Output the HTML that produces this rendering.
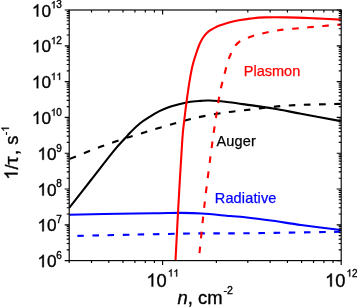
<!DOCTYPE html><html><head><meta charset="utf-8"><style>
html,body{margin:0;padding:0;background:#fff;}
svg{display:block;font-family:"Liberation Sans",sans-serif;will-change:transform;}
</style></head><body>
<svg width="357" height="307" viewBox="0 0 357 307">
<rect width="357" height="307" fill="#fff"/>
<defs><clipPath id="c"><rect x="69.20" y="10.00" width="272.00" height="250.60"/></clipPath></defs>
<g clip-path="url(#c)" fill="none" stroke-width="2.10" stroke-linejoin="round">
<path d="M69.30 214.70 C80.25 214.50 119.88 213.75 135.00 213.50 C150.12 213.25 152.37 213.30 160.00 213.20 C167.63 213.10 173.85 212.85 180.80 212.90 C187.75 212.95 193.50 212.98 201.70 213.50 C209.90 214.02 222.78 215.38 230.00 216.00 C237.22 216.62 237.83 216.40 245.00 217.20 C252.17 218.00 263.67 219.50 273.00 220.80 C282.33 222.10 289.70 223.47 301.00 225.00 C312.30 226.53 334.17 229.17 340.80 230.00" stroke="#0000ff"/>
<path d="M77.40 235.90 C87.00 235.68 114.57 235.02 135.00 234.60 C155.43 234.18 181.67 233.62 200.00 233.40 C218.33 233.18 221.53 233.57 245.00 233.30 C268.47 233.03 324.83 232.05 340.80 231.80" stroke="#0000ff" stroke-dasharray="6.55 8.55"/>
<path d="M69.20 207.90 C72.83 203.25 83.63 189.43 91.00 180.00 C98.37 170.57 107.68 158.30 113.40 151.30 C119.12 144.30 122.53 141.08 125.30 138.00 C128.07 134.92 127.58 135.22 130.00 132.80 C132.42 130.38 136.53 126.17 139.80 123.50 C143.07 120.83 146.33 118.87 149.60 116.80 C152.87 114.73 156.13 112.73 159.40 111.10 C162.67 109.47 165.93 108.13 169.20 107.00 C172.47 105.87 175.73 105.13 179.00 104.30 C182.27 103.47 185.30 102.57 188.80 102.00 C192.30 101.43 196.57 101.15 200.00 100.90 C203.43 100.65 204.57 100.28 209.40 100.50 C214.23 100.72 222.23 101.43 229.00 102.20 C235.77 102.97 242.67 104.05 250.00 105.10 C257.33 106.15 264.50 107.07 273.00 108.50 C281.50 109.93 289.70 111.60 301.00 113.70 C312.30 115.80 334.17 119.87 340.80 121.10" stroke="#000"/>
<path d="M69.90 158.90 C74.53 157.05 90.22 150.65 97.70 147.80 C105.18 144.95 109.50 143.62 114.80 141.80 C120.10 139.98 124.47 138.48 129.50 136.90 C134.53 135.32 141.42 133.40 145.00 132.30 C148.58 131.20 146.97 131.52 151.00 130.30 C155.03 129.08 164.37 126.42 169.20 125.00 C174.03 123.58 176.53 122.75 180.00 121.80 C183.47 120.85 186.67 120.12 190.00 119.30 C193.33 118.48 194.17 118.03 200.00 116.90 C205.83 115.77 216.67 113.72 225.00 112.50 C233.33 111.28 242.00 110.55 250.00 109.60 C258.00 108.65 264.50 107.58 273.00 106.80 C281.50 106.02 289.70 105.38 301.00 104.90 C312.30 104.42 334.17 104.07 340.80 103.90" stroke="#000" stroke-dasharray="6.55 8.55"/>
<path d="M175.50 260.60 C176.03 250.50 177.57 220.10 178.70 200.00 C179.83 179.90 181.37 153.33 182.30 140.00 C183.23 126.67 183.53 126.80 184.30 120.00 C185.07 113.20 185.98 105.93 186.90 99.20 C187.82 92.47 188.83 85.30 189.80 79.60 C190.77 73.90 191.55 69.60 192.70 65.00 C193.85 60.40 195.62 55.33 196.70 52.00 C197.78 48.67 198.33 47.10 199.20 45.00 C200.07 42.90 201.02 40.95 201.90 39.40 C202.78 37.85 203.63 36.80 204.50 35.70 C205.37 34.60 206.10 33.72 207.10 32.80 C208.10 31.88 209.18 31.07 210.50 30.20 C211.82 29.33 213.50 28.37 215.00 27.60 C216.50 26.83 217.83 26.25 219.50 25.60 C221.17 24.95 223.08 24.30 225.00 23.70 C226.92 23.10 228.70 22.57 231.00 22.00 C233.30 21.43 235.63 20.87 238.80 20.30 C241.97 19.73 245.70 19.08 250.00 18.60 C254.30 18.12 258.43 17.60 264.60 17.40 C270.77 17.20 278.60 17.23 287.00 17.40 C295.40 17.57 306.03 18.03 315.00 18.40 C323.97 18.77 336.50 19.40 340.80 19.60" stroke="#ff0000"/>
<path d="M198.80 260.60 C198.93 259.17 198.60 261.77 199.60 252.00 C200.60 242.23 202.67 220.33 204.80 202.00 C206.93 183.67 210.32 157.50 212.40 142.00 C214.48 126.50 216.00 117.43 217.30 109.00 C218.60 100.57 219.07 96.95 220.20 91.40 C221.33 85.85 222.80 80.77 224.10 75.70 C225.40 70.63 226.77 64.87 228.00 61.00 C229.23 57.13 230.37 54.95 231.50 52.50 C232.63 50.05 233.47 48.10 234.80 46.30 C236.13 44.50 237.97 42.87 239.50 41.70 C241.03 40.53 242.58 39.95 244.00 39.30 C245.42 38.65 246.32 38.45 248.00 37.80 C249.68 37.15 251.77 36.12 254.10 35.40 C256.43 34.68 257.92 34.37 262.00 33.50 C266.08 32.63 272.10 31.12 278.60 30.20 C285.10 29.28 293.53 28.70 301.00 28.00 C308.47 27.30 316.77 26.57 323.40 26.00 C330.03 25.43 337.90 24.83 340.80 24.60" stroke="#ff0000" stroke-dasharray="6.55 8.55" stroke-dashoffset="7.5"/>
</g>
<g stroke="#000" stroke-width="1.15" fill="none" stroke-linecap="butt">
<rect x="69.20" y="10.00" width="272.00" height="250.60"/>
<path d="M69.20 260.60 H64.70 M341.20 260.60 H336.70 M69.20 249.82 H66.70 M341.20 249.82 H338.70 M69.20 243.52 H66.70 M341.20 243.52 H338.70 M69.20 239.05 H66.70 M341.20 239.05 H338.70 M69.20 235.58 H66.70 M341.20 235.58 H338.70 M69.20 232.74 H66.70 M341.20 232.74 H338.70 M69.20 230.35 H66.70 M341.20 230.35 H338.70 M69.20 228.27 H66.70 M341.20 228.27 H338.70 M69.20 226.44 H66.70 M341.20 226.44 H338.70 M69.20 224.80 H64.70 M341.20 224.80 H336.70 M69.20 214.02 H66.70 M341.20 214.02 H338.70 M69.20 207.72 H66.70 M341.20 207.72 H338.70 M69.20 203.25 H66.70 M341.20 203.25 H338.70 M69.20 199.78 H66.70 M341.20 199.78 H338.70 M69.20 196.94 H66.70 M341.20 196.94 H338.70 M69.20 194.55 H66.70 M341.20 194.55 H338.70 M69.20 192.47 H66.70 M341.20 192.47 H338.70 M69.20 190.64 H66.70 M341.20 190.64 H338.70 M69.20 189.00 H64.70 M341.20 189.00 H336.70 M69.20 178.22 H66.70 M341.20 178.22 H338.70 M69.20 171.92 H66.70 M341.20 171.92 H338.70 M69.20 167.45 H66.70 M341.20 167.45 H338.70 M69.20 163.98 H66.70 M341.20 163.98 H338.70 M69.20 161.14 H66.70 M341.20 161.14 H338.70 M69.20 158.75 H66.70 M341.20 158.75 H338.70 M69.20 156.67 H66.70 M341.20 156.67 H338.70 M69.20 154.84 H66.70 M341.20 154.84 H338.70 M69.20 153.20 H64.70 M341.20 153.20 H336.70 M69.20 142.42 H66.70 M341.20 142.42 H338.70 M69.20 136.12 H66.70 M341.20 136.12 H338.70 M69.20 131.65 H66.70 M341.20 131.65 H338.70 M69.20 128.18 H66.70 M341.20 128.18 H338.70 M69.20 125.34 H66.70 M341.20 125.34 H338.70 M69.20 122.95 H66.70 M341.20 122.95 H338.70 M69.20 120.87 H66.70 M341.20 120.87 H338.70 M69.20 119.04 H66.70 M341.20 119.04 H338.70 M69.20 117.40 H64.70 M341.20 117.40 H336.70 M69.20 106.62 H66.70 M341.20 106.62 H338.70 M69.20 100.32 H66.70 M341.20 100.32 H338.70 M69.20 95.85 H66.70 M341.20 95.85 H338.70 M69.20 92.38 H66.70 M341.20 92.38 H338.70 M69.20 89.54 H66.70 M341.20 89.54 H338.70 M69.20 87.15 H66.70 M341.20 87.15 H338.70 M69.20 85.07 H66.70 M341.20 85.07 H338.70 M69.20 83.24 H66.70 M341.20 83.24 H338.70 M69.20 81.60 H64.70 M341.20 81.60 H336.70 M69.20 70.82 H66.70 M341.20 70.82 H338.70 M69.20 64.52 H66.70 M341.20 64.52 H338.70 M69.20 60.05 H66.70 M341.20 60.05 H338.70 M69.20 56.58 H66.70 M341.20 56.58 H338.70 M69.20 53.74 H66.70 M341.20 53.74 H338.70 M69.20 51.35 H66.70 M341.20 51.35 H338.70 M69.20 49.27 H66.70 M341.20 49.27 H338.70 M69.20 47.44 H66.70 M341.20 47.44 H338.70 M69.20 45.80 H64.70 M341.20 45.80 H336.70 M69.20 35.02 H66.70 M341.20 35.02 H338.70 M69.20 28.72 H66.70 M341.20 28.72 H338.70 M69.20 24.25 H66.70 M341.20 24.25 H338.70 M69.20 20.78 H66.70 M341.20 20.78 H338.70 M69.20 17.94 H66.70 M341.20 17.94 H338.70 M69.20 15.55 H66.70 M341.20 15.55 H338.70 M69.20 13.47 H66.70 M341.20 13.47 H338.70 M69.20 11.64 H66.70 M341.20 11.64 H338.70 M69.20 10.00 H64.70 M341.20 10.00 H336.70 M69.21 260.60 V263.10 M69.21 10.00 V12.50 M91.53 260.60 V263.10 M91.53 10.00 V12.50 M108.84 260.60 V263.10 M108.84 10.00 V12.50 M122.98 260.60 V263.10 M122.98 10.00 V12.50 M134.93 260.60 V263.10 M134.93 10.00 V12.50 M145.29 260.60 V263.10 M145.29 10.00 V12.50 M154.43 260.60 V263.10 M154.43 10.00 V12.50 M162.60 260.60 V265.10 M162.60 10.00 V14.50 M216.36 260.60 V263.10 M216.36 10.00 V12.50 M247.81 260.60 V263.10 M247.81 10.00 V12.50 M270.13 260.60 V263.10 M270.13 10.00 V12.50 M287.44 260.60 V263.10 M287.44 10.00 V12.50 M301.58 260.60 V263.10 M301.58 10.00 V12.50 M313.53 260.60 V263.10 M313.53 10.00 V12.50 M323.89 260.60 V263.10 M323.89 10.00 V12.50 M333.03 260.60 V263.10 M333.03 10.00 V12.50 M341.20 260.60 V265.10 M341.20 10.00 V14.50"/>
</g>
<g fill="#000" stroke="#000" stroke-width="0.35">
<path transform="translate(37.40 267.15) scale(0.00840 -0.00840)" d="M763 0H583V1147Q518 1085 412.5 1023T223 930V1104Q374 1175 487 1276T647 1472H763Z" vector-effect="non-scaling-stroke"/><text x="46.97" y="267.15" font-size="17.20">0</text>
<text x="56.34" y="258.90" font-size="10.00">6</text>
<path transform="translate(37.40 231.35) scale(0.00840 -0.00840)" d="M763 0H583V1147Q518 1085 412.5 1023T223 930V1104Q374 1175 487 1276T647 1472H763Z" vector-effect="non-scaling-stroke"/><text x="46.97" y="231.35" font-size="17.20">0</text>
<text x="56.34" y="223.10" font-size="10.00">7</text>
<path transform="translate(37.40 195.55) scale(0.00840 -0.00840)" d="M763 0H583V1147Q518 1085 412.5 1023T223 930V1104Q374 1175 487 1276T647 1472H763Z" vector-effect="non-scaling-stroke"/><text x="46.97" y="195.55" font-size="17.20">0</text>
<text x="56.34" y="187.30" font-size="10.00">8</text>
<path transform="translate(37.40 159.75) scale(0.00840 -0.00840)" d="M763 0H583V1147Q518 1085 412.5 1023T223 930V1104Q374 1175 487 1276T647 1472H763Z" vector-effect="non-scaling-stroke"/><text x="46.97" y="159.75" font-size="17.20">0</text>
<text x="56.34" y="151.50" font-size="10.00">9</text>
<path transform="translate(31.84 123.95) scale(0.00840 -0.00840)" d="M763 0H583V1147Q518 1085 412.5 1023T223 930V1104Q374 1175 487 1276T647 1472H763Z" vector-effect="non-scaling-stroke"/><text x="41.41" y="123.95" font-size="17.20">0</text>
<path transform="translate(50.78 115.70) scale(0.00488 -0.00488)" d="M763 0H583V1147Q518 1085 412.5 1023T223 930V1104Q374 1175 487 1276T647 1472H763Z" vector-effect="non-scaling-stroke"/><text x="56.34" y="115.70" font-size="10.00">0</text>
<path transform="translate(31.84 88.15) scale(0.00840 -0.00840)" d="M763 0H583V1147Q518 1085 412.5 1023T223 930V1104Q374 1175 487 1276T647 1472H763Z" vector-effect="non-scaling-stroke"/><text x="41.41" y="88.15" font-size="17.20">0</text>
<path transform="translate(50.78 79.90) scale(0.00488 -0.00488)" d="M763 0H583V1147Q518 1085 412.5 1023T223 930V1104Q374 1175 487 1276T647 1472H763Z" vector-effect="non-scaling-stroke"/><path transform="translate(56.34 79.90) scale(0.00488 -0.00488)" d="M763 0H583V1147Q518 1085 412.5 1023T223 930V1104Q374 1175 487 1276T647 1472H763Z" vector-effect="non-scaling-stroke"/>
<path transform="translate(31.84 52.35) scale(0.00840 -0.00840)" d="M763 0H583V1147Q518 1085 412.5 1023T223 930V1104Q374 1175 487 1276T647 1472H763Z" vector-effect="non-scaling-stroke"/><text x="41.41" y="52.35" font-size="17.20">0</text>
<path transform="translate(50.78 44.10) scale(0.00488 -0.00488)" d="M763 0H583V1147Q518 1085 412.5 1023T223 930V1104Q374 1175 487 1276T647 1472H763Z" vector-effect="non-scaling-stroke"/><text x="56.34" y="44.10" font-size="10.00">2</text>
<path transform="translate(31.84 16.55) scale(0.00840 -0.00840)" d="M763 0H583V1147Q518 1085 412.5 1023T223 930V1104Q374 1175 487 1276T647 1472H763Z" vector-effect="non-scaling-stroke"/><text x="41.41" y="16.55" font-size="17.20">0</text>
<path transform="translate(50.78 8.30) scale(0.00488 -0.00488)" d="M763 0H583V1147Q518 1085 412.5 1023T223 930V1104Q374 1175 487 1276T647 1472H763Z" vector-effect="non-scaling-stroke"/><text x="56.34" y="8.30" font-size="10.00">3</text>
<path transform="translate(146.40 286.60) scale(0.00894 -0.00894)" d="M763 0H583V1147Q518 1085 412.5 1023T223 930V1104Q374 1175 487 1276T647 1472H763Z" vector-effect="non-scaling-stroke"/><text x="156.58" y="286.60" font-size="18.30">0</text>
<path transform="translate(167.86 276.50) scale(0.00488 -0.00488)" d="M763 0H583V1147Q518 1085 412.5 1023T223 930V1104Q374 1175 487 1276T647 1472H763Z" vector-effect="non-scaling-stroke"/><path transform="translate(173.42 276.50) scale(0.00488 -0.00488)" d="M763 0H583V1147Q518 1085 412.5 1023T223 930V1104Q374 1175 487 1276T647 1472H763Z" vector-effect="non-scaling-stroke"/>
<path transform="translate(325.00 286.60) scale(0.00894 -0.00894)" d="M763 0H583V1147Q518 1085 412.5 1023T223 930V1104Q374 1175 487 1276T647 1472H763Z" vector-effect="non-scaling-stroke"/><text x="335.18" y="286.60" font-size="18.30">0</text>
<path transform="translate(346.46 276.50) scale(0.00488 -0.00488)" d="M763 0H583V1147Q518 1085 412.5 1023T223 930V1104Q374 1175 487 1276T647 1472H763Z" vector-effect="non-scaling-stroke"/><text x="352.02" y="276.50" font-size="10.00">2</text>
<text x="177.5" y="304.3" font-size="18.4"><tspan font-style="italic">n</tspan>, cm<tspan font-size="10.6" dy="-10.2" dx="1">-2</tspan></text>
<g transform="translate(17.6 179.7) rotate(-90)"><path transform="translate(0.00 0.00) scale(0.00898 -0.00898)" d="M763 0H583V1147Q518 1085 412.5 1023T223 930V1104Q374 1175 487 1276T647 1472H763Z" vector-effect="non-scaling-stroke"/><text x="10.23" y="0.00" font-size="18.40">/</text></g>
<text transform="translate(17.6 164.5) rotate(-90) scale(1.14 1)" font-size="18.4">&#964;</text>
<text transform="translate(17.6 155.0) rotate(-90)" font-size="18.4">, s</text>
<g transform="translate(8.9 135.2) rotate(-90)"><text x="0.00" y="0.00" font-size="10.40">-</text><path transform="translate(3.46 0.00) scale(0.00508 -0.00508)" d="M763 0H583V1147Q518 1085 412.5 1023T223 930V1104Q374 1175 487 1276T647 1472H763Z" vector-effect="non-scaling-stroke"/></g>
</g>
<text x="243.8" y="75.6" font-size="14.50" fill="#ff0000" stroke="#ff0000" stroke-width="0.25">Plasmon</text>
<text x="216.4" y="146.2" letter-spacing="0.2" font-size="14.50" fill="#000" stroke="#000" stroke-width="0.25">Auger</text>
<text x="214.8" y="202.6" letter-spacing="0.14" font-size="14.50" fill="#0000ff" stroke="#0000ff" stroke-width="0.25">Radiative</text>
</svg></body></html>
